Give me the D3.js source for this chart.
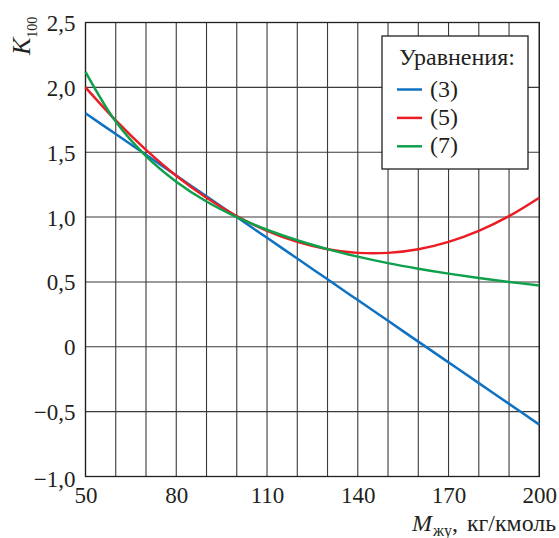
<!DOCTYPE html>
<html><head><meta charset="utf-8">
<script src="https://cdn.jsdelivr.net/npm/d3@7"></script>
<style>body{margin:0;background:#fff}svg{display:block}</style>
</head><body><svg id="c" width="559" height="538"></svg>
<script>
const massValues = [50,60,70,80,90,100,110,120,130,140,150,160,170,180,190,200];
const eq3Values = [1.80,1.64,1.48,1.32,1.16,1.00,0.84,0.68,0.52,0.36,0.20,0.04,-0.12,-0.28,-0.44,-0.60];
const eq5Values = [2.00,1.745,1.518,1.319,1.149,1.007,0.894,0.809,0.752,0.724,0.724,0.752,0.809,0.894,1.007,1.149];
const eq7Values = [2.12,1.736,1.470,1.273,1.120,1.00,0.902,0.821,0.753,0.695,0.645,0.602,0.564,0.530,0.500,0.473];
const xTickLabels = [50,80,110,140,170,200];
const yTickLabels = [-1.0,-0.5,0,0.5,1.0,1.5,2.0,2.5];
const seriesNames = ["(3)","(5)","(7)"];
const seriesColors = ["#0f72c2","#ec1c24","#0ea04b"];
const xGrid = d3.range(50,201,10);

const FONT = '"Liberation Serif", Tinos, "Times New Roman"';
const INK = "#231f20";
const svg = d3.select("#c");
const L=85.5, R=539.3, T=22.5, B=476.5;
const x = d3.scaleLinear().domain([50,200]).range([L,R]);
const y = d3.scaleLinear().domain([-1,2.5]).range([B,T]);
const fmt = v => (v<0?"\u2212":"") + (v===0?"0":d3.format(".1f")(Math.abs(v)).replace(".",","));

const g = svg.append("g");
g.selectAll("line.v").data(xGrid).join("line")
 .attr("x1",d=>x(d)).attr("x2",d=>x(d)).attr("y1",T).attr("y2",B)
 .attr("stroke","#3a3a3a").attr("stroke-width",1.1);
g.selectAll("line.h").data(yTickLabels).join("line")
 .attr("y1",d=>y(d)).attr("y2",d=>y(d)).attr("x1",L).attr("x2",R)
 .attr("stroke","#3a3a3a").attr("stroke-width",1.1);
g.append("rect").attr("x",L).attr("y",T).attr("width",R-L).attr("height",B-T)
 .attr("fill","none").attr("stroke",INK).attr("stroke-width",1.3);

const xAxis = d3.axisBottom(x).tickValues(xTickLabels).tickSize(0).tickPadding(0).tickFormat(d=>d);
const xa = svg.append("g").attr("transform",`translate(0,${B})`).call(xAxis);
xa.select(".domain").remove();
xa.selectAll("text").style("font-family",FONT).style("font-size","23px").attr("fill",INK).attr("dy",null).attr("y",26.5);
const yAxis = d3.axisLeft(y).tickValues(yTickLabels).tickSize(0).tickPadding(10).tickFormat(fmt);
const ya = svg.append("g").attr("transform",`translate(${L},0)`).call(yAxis);
ya.select(".domain").remove();
ya.selectAll("text").style("font-family",FONT).style("font-size","23px").attr("fill",INK).attr("dy","0.35em");
ya.selectAll(".tick").filter(d=>d===-1).select("text").attr("dy","0.45em");

const series = [eq3Values, eq5Values, eq7Values];
const line = d3.line().x((d,i)=>x(massValues[i])).y(d=>y(d)).curve(d3.curveCatmullRom.alpha(0.5));
series.forEach((s,i)=>{
  svg.append("path").datum(s).attr("d",line).attr("fill","none")
    .attr("stroke",seriesColors[i]).attr("stroke-width",2.5);
});

const lg = svg.append("g");
lg.append("rect").attr("x",382).attr("y",36).attr("width",146).attr("height",133)
  .attr("fill","#fff").attr("stroke",INK).attr("stroke-width",1.3);
lg.append("text").attr("x",457).attr("y",65).attr("text-anchor","middle")
  .style("font-family",FONT).style("font-size","24px").attr("fill",INK).text("Уравнения:");
seriesNames.forEach((n,i)=>{
  const yy = 89.5 + i*28.4;
  lg.append("line").attr("x1",397).attr("x2",422).attr("y1",yy).attr("y2",yy)
    .attr("stroke",seriesColors[i]).attr("stroke-width",2.5);
  lg.append("text").attr("x",430).attr("y",yy+7).style("font-family",FONT).style("font-size","24px").attr("fill",INK).text(n);
});

const xt = svg.append("text").attr("x",412).attr("y",531)
  .style("font-family",FONT).style("font-size","24px").attr("fill",INK);
xt.append("tspan").style("font-style","italic").text("M");
xt.append("tspan").style("font-size","16px").attr("dx",1).attr("dy",5).text("жу");
xt.append("tspan").attr("dy",-5).text(",");
xt.append("tspan").attr("x",467).attr("textLength",89).attr("lengthAdjust","spacingAndGlyphs").text("кг/кмоль");

const yt = svg.append("text").attr("transform","translate(30,55) rotate(-90)")
  .style("font-family",FONT).style("font-size","26px").attr("fill",INK);
yt.append("tspan").style("font-style","italic").text("K");
yt.append("tspan").style("font-size","14px").attr("dy",6.5).text("100");
</script></body></html>
